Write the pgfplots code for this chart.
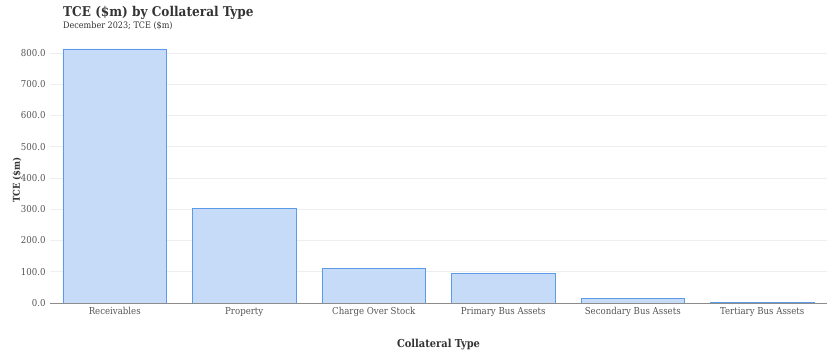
\documentclass[border=0pt]{standalone}
\usepackage{pgfplots}
\pgfplotsset{compat=1.18}
\usepackage{fontspec}
\setmainfont{DejaVu Serif Condensed}
\definecolor{barfill}{HTML}{C6DBF7}
\definecolor{baredge}{HTML}{5B9BEA}
\definecolor{gridc}{HTML}{EEEEEE}
\definecolor{axisc}{HTML}{8C8C8C}
\definecolor{tickc}{HTML}{555555}
\definecolor{titlec}{HTML}{333333}
\begin{document}
\begin{tikzpicture}[x=1bp,y=1bp]
\useasboundingbox (-50,-55) rectangle (782,303);
\begin{axis}[
  at={(0,0)}, anchor=south west,
  scale only axis,
  width=777bp, height=256.25bp,
  xmin=-0.5, xmax=5.5,
  ymin=0, ymax=820,
  axis line style={draw=none},
  ybar, bar width=0.8,
  bar shift=0pt,
  xtick=data,
  xticklabels={Receivables,Property,Charge Over Stock,Primary Bus Assets,Secondary Bus Assets,Tertiary Bus Assets},
  ytick={0,100,...,800},
  ymajorgrids,
  grid style={gridc, line width=0.6pt},
  major tick length=0pt,
  tick label style={font=\fontsize{9.6}{11}\selectfont, text=tickc},
  yticklabel style={xshift=-1bp},
  xticklabel style={yshift=-1bp},
  /pgf/number format/assume math mode=true,
  yticklabel={\pgfmathprintnumber[fixed,fixed zerofill,precision=1]{\tick}},
  clip=false,
]
\addplot[fill=barfill, draw=baredge, line width=0.8pt] coordinates {
  (0,813) (1,304) (2,110) (3,96) (4,15) (5,1)
};
\draw[axisc, line width=0.8pt] (axis cs:-0.5,0) -- (axis cs:5.5,0);
\end{axis}
\node[anchor=base west, inner sep=0pt, font=\bfseries\fontsize{13.5}{15}\selectfont, text=titlec] at (13,287) {TCE (\$m) by Collateral Type};
\node[anchor=base west, inner sep=0pt, font=\fontsize{9}{10}\selectfont, text=titlec] at (13,275) {December 2023; TCE (\$m)};
\node[rotate=90, font=\bfseries\fontsize{9.5}{11}\selectfont, text=titlec] at (-33,123) {TCE (\$m)};
\node[font=\bfseries\fontsize{11}{13}\selectfont, text=titlec] at (388.5,-42) {Collateral Type};
\end{tikzpicture}
\end{document}
